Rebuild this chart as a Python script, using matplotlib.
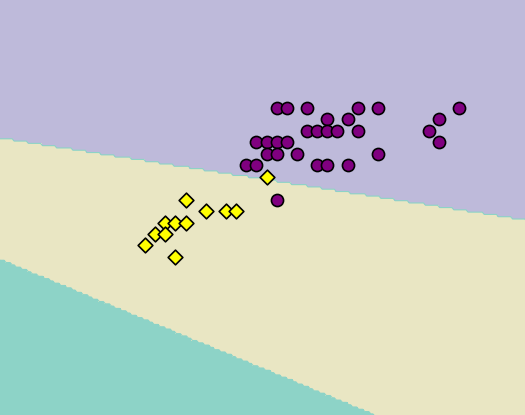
import numpy as np
import matplotlib
matplotlib.use("Agg")
import matplotlib.pyplot as plt
from matplotlib.colors import ListedColormap

# Data points (two classes)
purple_x = [6.1, 6.2, 6.4, 6.9, 7.1, 7.9,
            6.6, 6.8, 7.7,
            6.4, 6.5, 6.6, 6.7, 6.9, 7.6,
            5.9, 6.0, 6.1, 6.2, 7.7,
            6.0, 6.1, 6.3, 7.1,
            5.8, 5.9, 6.5, 6.6, 6.8,
            6.1]
purple_y = [3.8] * 6 + [3.7] * 3 + [3.6] * 6 + [3.5] * 5 + [3.4] * 4 + [3.3] * 5 + [3.0]

yellow_x = [6.0, 5.2, 5.4, 5.6, 5.7, 5.0, 5.1, 5.2, 4.9, 5.0, 4.8, 5.1]
yellow_y = [3.2, 3.0, 2.9, 2.9, 2.9, 2.8, 2.8, 2.8, 2.7, 2.7, 2.6, 2.5]

# Linear decision boundaries (model parameters): y = intercept + slope * (x - x0)
x0 = 3.369
bound_upper = (3.538, -0.138)   # purple / yellow
bound_lower = (2.478, -0.367)   # yellow / teal

xlim = (3.369, 8.551)
ylim = (1.121, 4.742)
h = 0.02

region_colors = ['#8dd3c7', '#e9e6c3', '#bebada']

fig = plt.figure(figsize=(5.25, 4.15), dpi=100)
ax = fig.add_axes([0, 0, 1, 1])

xs = np.arange(xlim[0] - h, xlim[1] + h, h)
ys = np.arange(ylim[0] - h, ylim[1] + h, h)
xx, yy = np.meshgrid(xs, ys)
up = bound_upper[0] + bound_upper[1] * (xx - x0)
lo = bound_lower[0] + bound_lower[1] * (xx - x0)
Z = np.where(yy > up, 2, np.where(yy > lo, 1, 0))

cmap = ListedColormap(region_colors)
ax.pcolormesh(xx, yy, Z, cmap=cmap, vmin=-0.5, vmax=2.5, shading='nearest')
ax.contour(xx, yy, Z, levels=[0.5, 1.5], colors=['#8dd3c7'], linewidths=0.8)

ax.scatter(purple_x, purple_y, s=76, marker='o', c='#800080',
           edgecolors='black', linewidths=1.2, zorder=3)
ax.scatter(yellow_x, yellow_y, s=56, marker='D', c='#ffff00',
           edgecolors='black', linewidths=1.2, zorder=3)

ax.set_xlim(*xlim)
ax.set_ylim(*ylim)
ax.axis('off')

fig.savefig('out.png', dpi=100)
